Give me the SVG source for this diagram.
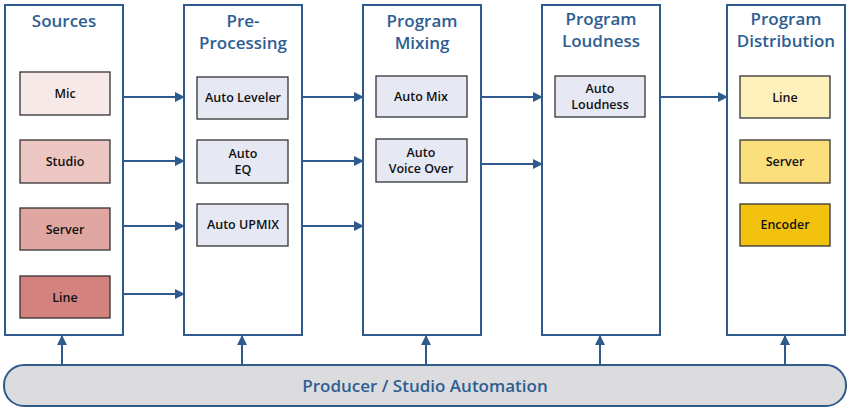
<svg xmlns="http://www.w3.org/2000/svg" width="850" height="411" viewBox="0 0 850 411">
<style>
.col{fill:#fff;stroke:#2f5b8c;stroke-width:2}
.box{stroke:#333;stroke-width:1.3}
.blue{fill:#e6e8f3}
.t{font-family:"Open Sans","Liberation Sans",sans-serif;fill:#2e5e92;font-size:17px;font-weight:600;text-anchor:middle}
.l{font-family:"Open Sans","Liberation Sans",sans-serif;fill:#111;font-size:12.5px;font-weight:600;text-anchor:middle}
.c{stroke:#2f5b8c;stroke-width:2;fill:none;marker-end:url(#a)}
</style>
<defs><marker id="a" markerWidth="10" markerHeight="10" refX="9" refY="5" orient="auto" markerUnits="userSpaceOnUse"><path d="M0,0 L10,5 L0,10 Z" fill="#2f5b8c"/></marker></defs>
<g id="automation"><rect x="4" y="365" width="842" height="41" rx="20" fill="#dcdcdf" stroke="#2f5b8c" stroke-width="2"/><text class="t" x="425" y="392" style="font-size:17px">Producer / Studio Automation</text></g>
<g id="sources"><rect class="col" x="5" y="5" width="118" height="330"/><text class="t" x="64" y="27">Sources</text>
<rect class="box" x="20" y="72" width="90" height="43" fill="#f7e9e7"/><text class="l" x="65" y="98">Mic</text>
<rect class="box" x="20" y="140" width="90" height="43" fill="#ebc6c3"/><text class="l" x="65" y="166">Studio</text>
<rect class="box" x="20" y="208" width="90" height="42" fill="#e0a7a2"/><text class="l" x="65" y="234">Server</text>
<rect class="box" x="20" y="276" width="90" height="42" fill="#d4827d"/><text class="l" x="65" y="302">Line</text></g>
<g id="preprocessing"><rect class="col" x="184" y="5" width="118" height="330"/><text class="t" x="243" y="27">Pre-</text><text class="t" x="243" y="49">Processing</text>
<rect class="box blue" x="197" y="77" width="91" height="42"/><text class="l" x="243" y="102">Auto Leveler</text>
<rect class="box blue" x="197" y="140" width="91" height="43"/><text class="l" x="243" y="158">Auto</text><text class="l" x="243" y="174">EQ</text>
<rect class="box blue" x="197" y="204" width="91" height="42"/><text class="l" x="243" y="229">Auto UPMIX</text></g>
<g id="mixing"><rect class="col" x="363" y="5" width="118" height="330"/><text class="t" x="422" y="27">Program</text><text class="t" x="422" y="49">Mixing</text>
<rect class="box blue" x="376" y="76" width="91" height="41"/><text class="l" x="421" y="101">Auto Mix</text>
<rect class="box blue" x="376" y="139" width="91" height="43"/><text class="l" x="421" y="157">Auto</text><text class="l" x="421" y="173">Voice Over</text></g>
<g id="loudness"><rect class="col" x="542" y="5" width="118" height="330"/><text class="t" x="601" y="25">Program</text><text class="t" x="601" y="47">Loudness</text>
<rect class="box blue" x="555" y="76" width="90" height="41"/><text class="l" x="600" y="93">Auto</text><text class="l" x="600" y="109">Loudness</text></g>
<g id="distribution"><rect class="col" x="727" y="5" width="118" height="330"/><text class="t" x="786" y="25">Program</text><text class="t" x="786" y="47">Distribution</text>
<rect class="box" x="740" y="76" width="90" height="42" fill="#fdf0bb"/><text class="l" x="785" y="102">Line</text>
<rect class="box" x="740" y="140" width="90" height="43" fill="#fbdf7c"/><text class="l" x="785" y="166">Server</text>
<rect class="box" x="740" y="204" width="90" height="42" fill="#f3c20f"/><text class="l" x="785" y="229">Encoder</text></g>
<g id="connectors">
<path class="c" d="M123,97H184"/><path class="c" d="M123,161H184"/><path class="c" d="M123,226H184"/><path class="c" d="M123,294H184"/>
<path class="c" d="M302,97H363"/><path class="c" d="M302,161H363"/><path class="c" d="M302,226H363"/>
<path class="c" d="M481,97H542"/><path class="c" d="M481,164H542"/>
<path class="c" d="M660,97H727"/>
<path class="c" d="M62,365V336"/><path class="c" d="M242,365V336"/><path class="c" d="M426,365V336"/><path class="c" d="M600,365V336"/><path class="c" d="M785,365V336"/>
</g>
</svg>
